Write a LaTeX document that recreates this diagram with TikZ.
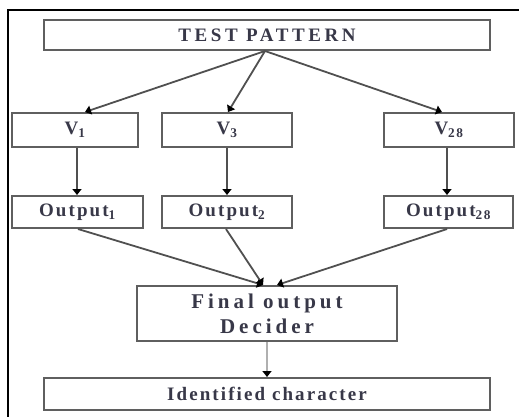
\documentclass[tikz,border=0pt]{standalone}
\usepackage{fontspec}
\setmainfont{Liberation Serif}
\usetikzlibrary{arrows.meta}
\definecolor{boxline}{HTML}{5F5F5F}
\definecolor{txt}{HTML}{383848}
\definecolor{linkline}{HTML}{505050}
\definecolor{linkgray}{HTML}{B0B0B0}
\newfontfamily\spaced[LetterSpace=11]{Liberation Serif}
\newfontfamily\widespaced[LetterSpace=19]{Liberation Serif}
\begin{document}
\begin{tikzpicture}[x=1pt,y=-1pt,
  blockbox/.style={draw=boxline,line width=2pt,fill=white,inner sep=0pt,
    text=txt,font=\spaced\bfseries\fontsize{19}{22}\selectfont,align=center},
  link/.style={draw=linkline,line width=1.8pt,
    -{Triangle[length=6pt,width=9pt,color=black]}}]
\useasboundingbox (0,0) rectangle (519,416);
% outer frame
\draw[line width=2pt] (8,10) rectangle (530,430);

\node[blockbox,minimum width=446pt,minimum height=30pt,
  font=\widespaced\bfseries\fontsize{19}{22}\selectfont] (tp) at (267,35) {TEST PATTERN};

\node[blockbox,minimum width=126pt,minimum height=34pt] (v1) at (75,130) {V\textsubscript{1}};
\node[blockbox,minimum width=130pt,minimum height=34pt] (v3) at (227,130) {V\textsubscript{3}};
\node[blockbox,minimum width=130pt,minimum height=34pt] (v28) at (449,130) {V\textsubscript{28}};

\node[blockbox,minimum width=131pt,minimum height=32pt] (o1) at (77.5,212) {Output\textsubscript{1}};
\node[blockbox,minimum width=130pt,minimum height=32pt] (o2) at (227,212) {Output\textsubscript{2}};
\node[blockbox,minimum width=129pt,minimum height=32pt] (o28) at (448.5,212) {Output\textsubscript{28}};

\node[blockbox,minimum width=260pt,minimum height=55pt,
  font=\widespaced\bfseries\fontsize{21}{25}\selectfont] (fd) at (267,313.5) {Final output\\Decider};

\node[blockbox,minimum width=446pt,minimum height=32pt] (id) at (267,394) {Identified character};

% pattern fan-out
\draw[link] ([xshift=-2pt]tp.south) -- ([xshift=10pt]v1.north);
\draw[link] ([xshift=-2pt]tp.south) -- ([xshift=1pt]v3.north);
\draw[link] ([xshift=-2pt]tp.south) -- ([xshift=-7pt]v28.north);

% per-class outputs
\draw[link] ([xshift=2pt]v1.south) -- ([xshift=2pt]v1.south |- o1.north);
\draw[link] (v3.south) -- (o2.north);
\draw[link] ([xshift=-2pt]v28.south) -- ([xshift=-2pt]v28.south |- o28.north);

% merge into decider
\draw[link] ([xshift=0.5pt]o1.south) -- ([xshift=-4pt]fd.north);
\draw[link] ([xshift=-1pt]o2.south) -- ([xshift=-4pt]fd.north);
\draw[link] ([xshift=-1.5pt]o28.south) -- ([xshift=10pt]fd.north);

% final decision
\draw[link,draw=linkgray,line width=2.2pt] (fd.south) -- (id.north);
\end{tikzpicture}
\end{document}
